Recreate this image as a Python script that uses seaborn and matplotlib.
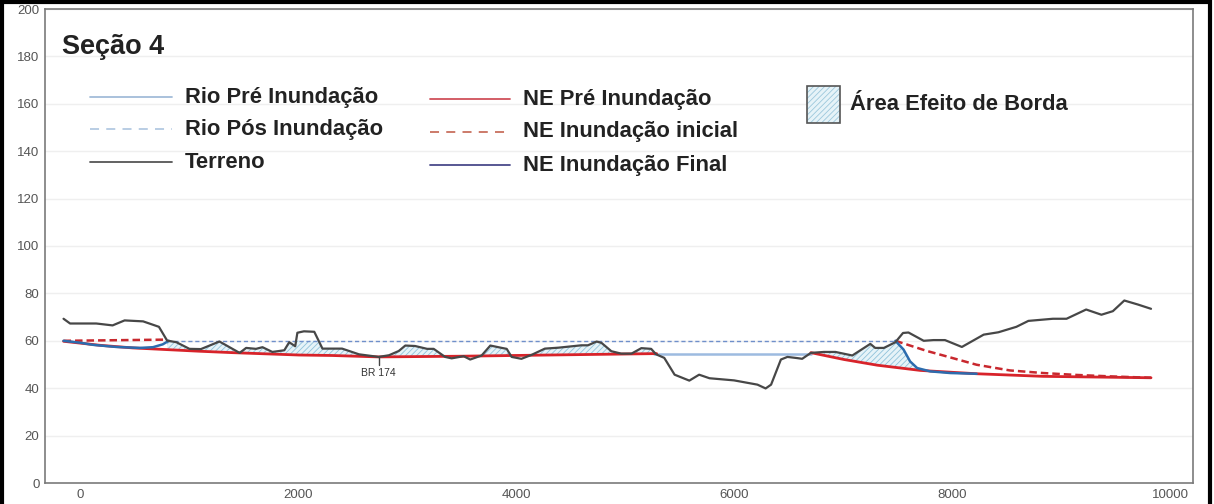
import numpy as np
import matplotlib
matplotlib.use("Agg")
import matplotlib.pyplot as plt
from matplotlib.patches import Rectangle
from matplotlib.lines import Line2D
import seaborn as sns

# Terrain profile along the section (distance in m, elevation in m)
terreno_x = [-150, -90, 150, 300, 410, 580, 725, 800, 885, 1005, 1110, 1280, 1465, 1525,
             1615, 1675, 1765, 1875, 1920, 1975, 1995, 2055, 2150, 2225, 2405, 2560, 2740,
             2835, 2925, 2985, 3075, 3185, 3245, 3350, 3410, 3520, 3580, 3685, 3765, 3870,
             3915, 3960, 4050, 4145, 4265, 4390, 4600, 4660, 4740, 4785, 4875, 4965, 5060,
             5150, 5240, 5285, 5360, 5455, 5590, 5680, 5775, 6000, 6215, 6290, 6340, 6430,
             6490, 6580, 6625, 6705, 6825, 6930, 7085, 7250, 7295, 7375, 7480, 7550, 7600,
             7740, 7830, 7935, 8090, 8290, 8425, 8590, 8700, 8925, 9050, 9230, 9370, 9475,
             9580, 9705, 9825]
terreno_y = [69.3, 67.3, 67.3, 66.5, 68.6, 68.2, 65.9, 60.1, 59.4, 56.6, 56.5, 59.7, 54.9, 57.0,
             56.6, 57.3, 55.3, 56.0, 59.4, 57.7, 63.4, 64.0, 63.8, 56.7, 56.7, 54.3, 53.2,
             53.9, 55.7, 58.0, 57.8, 56.6, 56.6, 53.2, 52.6, 53.5, 52.1, 53.8, 58.0, 57.0,
             56.6, 53.2, 52.4, 54.1, 56.7, 57.1, 58.1, 58.1, 59.7, 59.1, 55.6, 54.6, 54.6,
             56.9, 56.6, 54.3, 52.8, 45.7, 43.2, 45.7, 44.2, 43.3, 41.5, 39.9, 41.5, 52.1,
             53.2, 52.7, 52.4, 54.9, 55.3, 55.3, 53.8, 58.7, 57.0, 57.0, 59.4, 63.3, 63.5,
             60.0, 60.3, 60.3, 57.4, 62.6, 63.6, 65.9, 68.4, 69.3, 69.3, 73.2, 71.0, 72.5,
             77.0, 75.3, 73.5]

# Water level before flooding (NE Pré Inundação), upstream and downstream reaches
ne_pre_a_x = [-150, 185, 485, 790, 1095, 1400, 1705, 2010, 2315, 2740, 3500, 4300, 5290]
ne_pre_a_y = [59.8, 58.1, 57.0, 56.3, 55.6, 55.0, 54.5, 54.0, 53.8, 53.2, 53.5, 54.0, 54.6]
ne_pre_b_x = [6705, 7010, 7315, 7710, 8225, 8835, 9825]
ne_pre_b_y = [55.0, 52.1, 49.7, 47.5, 46.1, 45.0, 44.4]

# River level before flooding (Rio Pré Inundação)
rio_pre_x = [5270, 6705]
rio_pre_y = [54.5, 54.5]

# River level after flooding (Rio Pós Inundação)
rio_pos_x = [800, 7480]
rio_pos_y = [60.0, 60.0]

# Initial flooding water level (NE Inundação inicial)
ne_ini_a_x = [-150, 800]
ne_ini_a_y = [60.0, 60.5]
ne_ini_b_x = [7480, 7770, 7920, 8225, 8530, 8835, 9140, 9445, 9825]
ne_ini_b_y = [60.0, 55.7, 53.8, 49.9, 47.5, 46.4, 45.6, 45.0, 44.4]

# Final flooding water level (NE Inundação Final)
ne_fin_a_x = [-150, 0, 120, 335, 550, 670, 760, 815]
ne_fin_a_y = [60.0, 59.2, 58.3, 57.4, 57.0, 57.3, 58.5, 60.0]
ne_fin_b_x = [7480, 7555, 7615, 7680, 7800, 7985, 8225]
ne_fin_b_y = [60.0, 56.3, 51.3, 48.5, 47.1, 46.4, 46.1]

x_ticks = [0, 2000, 4000, 6000, 8000, 10000]
y_ticks = list(range(0, 201, 20))

titulo = "Seção 4"
legenda_col1 = ["Rio Pré Inundação", "Rio Pós Inundação", "Terreno"]
legenda_col2 = ["NE Pré Inundação", "NE Inundação inicial", "NE Inundação Final"]
legenda_area = "Área Efeito de Borda"
marco_nome = "BR 174"
marco_x = 2740
marco_y = 53.2

sns.set_style("white")
plt.rcParams["font.family"] = ["Liberation Sans", "DejaVu Sans"]
plt.rcParams["hatch.linewidth"] = 0.6

W, H = 1214, 504
fig = plt.figure(figsize=(W / 100, H / 100), dpi=100)
ax = fig.add_axes([45 / W, 21 / H, 1148 / W, 474 / H])

# Grid
for yv in y_ticks[1:]:
    ax.axhline(yv, color="#efefef", lw=1.0, zorder=0)

# Edge-effect areas: between the pre-flood water level and the terrain, below the post-flood level
fill_style = dict(facecolor="#e6f3f8", edgecolor="#8fc2da", hatch="//////", linewidth=0, zorder=1)

xa = np.linspace(800, 5290, 900)
up_a = np.minimum(np.interp(xa, terreno_x, terreno_y), np.interp(xa, rio_pos_x, rio_pos_y))
lo_a = np.interp(xa, ne_pre_a_x, ne_pre_a_y)
ax.fill_between(xa, lo_a, up_a, where=up_a > lo_a, interpolate=True, **fill_style)

xb = np.linspace(6705, 7710, 400)
up_b = np.minimum(np.interp(xb, terreno_x, terreno_y), 60.0)
up_b = np.where(xb > 7480, np.minimum(up_b, np.interp(xb, ne_fin_b_x, ne_fin_b_y)), up_b)
lo_b = np.interp(xb, ne_pre_b_x, ne_pre_b_y)
ax.fill_between(xb, lo_b, up_b, where=up_b > lo_b, interpolate=True, **fill_style)

# Water levels
sns.lineplot(x=rio_pos_x, y=rio_pos_y, ax=ax, color="#6f8fca", lw=1.0,
             linestyle=(0, (3, 2)), zorder=3)
sns.lineplot(x=rio_pre_x, y=rio_pre_y, ax=ax, color="#9dbbe0", lw=1.8, zorder=3)
sns.lineplot(x=ne_pre_a_x, y=ne_pre_a_y, ax=ax, color="#d8232a", lw=2.0, zorder=4)
sns.lineplot(x=ne_pre_b_x, y=ne_pre_b_y, ax=ax, color="#d8232a", lw=2.0, zorder=4)
sns.lineplot(x=ne_ini_a_x, y=ne_ini_a_y, ax=ax, color="#c8282e", lw=1.8,
             linestyle=(0, (3, 1.6)), zorder=5)
sns.lineplot(x=ne_ini_b_x, y=ne_ini_b_y, ax=ax, color="#c8282e", lw=1.8,
             linestyle=(0, (3, 1.6)), zorder=5)
sns.lineplot(x=ne_fin_a_x, y=ne_fin_a_y, ax=ax, color="#2c6cae", lw=1.8, zorder=5)
sns.lineplot(x=ne_fin_b_x, y=ne_fin_b_y, ax=ax, color="#2c6cae", lw=1.8, zorder=5)

# Terrain
sns.lineplot(x=terreno_x, y=terreno_y, ax=ax, color="#474747", lw=1.6, zorder=6)

# Road marker
ax.plot([marco_x, marco_x], [marco_y, marco_y - 3.5], color="#444444", lw=1.0, zorder=6)
ax.text(marco_x, marco_y - 6.8, marco_nome, ha="center", va="center",
        fontsize=7.5, color="#333333", zorder=6)

ax.set_xlim(-320, 10210)
ax.set_ylim(0, 200)
ax.set_xticks(x_ticks)
ax.set_yticks(y_ticks)
ax.set_xticklabels([str(v) for v in x_ticks])
ax.set_yticklabels([str(v) for v in y_ticks])
ax.tick_params(axis="both", length=0, labelsize=9.5, labelcolor="#555555", pad=4)
ax.set_xlabel("")
ax.set_ylabel("")
for sp in ax.spines.values():
    sp.set_color("#7a7a7a")
    sp.set_linewidth(1.2)

# Title and legend
def fx(px):
    return (px - 45) / 1148

def fy(py):
    return (483 - py) / 474

ax.text(fx(62), fy(47), titulo, transform=ax.transAxes, fontsize=19.5, fontweight="bold",
        color="#222222", ha="left", va="center")

LEG_FS = 15.8
col1_styles = [dict(color="#a3bcd9", lw=1.3, ls="-"),
               dict(color="#b3c9e2", lw=1.3, ls=(0, (5, 4))),
               dict(color="#555555", lw=1.3, ls="-")]
col2_styles = [dict(color="#d0505a", lw=1.3, ls="-"),
               dict(color="#c8705e", lw=1.3, ls=(0, (5, 4))),
               dict(color="#4a4a8a", lw=1.3, ls="-")]
for label, st, py in zip(legenda_col1, col1_styles, [97, 129, 162]):
    ax.add_line(Line2D([fx(90), fx(172)], [fy(py), fy(py)], transform=ax.transAxes, **st))
    ax.text(fx(185), fy(py), label, transform=ax.transAxes, fontsize=LEG_FS, fontweight="bold",
            color="#222222", ha="left", va="center")
for label, st, py in zip(legenda_col2, col2_styles, [99, 132, 165]):
    ax.add_line(Line2D([fx(430), fx(510)], [fy(py), fy(py)], transform=ax.transAxes, **st))
    ax.text(fx(523), fy(py), label, transform=ax.transAxes, fontsize=LEG_FS, fontweight="bold",
            color="#222222", ha="left", va="center")

box = (fx(807), fy(123)), fx(840) - fx(807), fy(86) - fy(123)
ax.add_patch(Rectangle(*box, transform=ax.transAxes, facecolor="#e6f3f8", edgecolor="#9cc8dc",
                       hatch="//////", linewidth=0, zorder=7))
ax.add_patch(Rectangle(*box, transform=ax.transAxes, facecolor="none", edgecolor="#555555",
                       linewidth=1.2, zorder=8))
ax.text(fx(850), fy(105), legenda_area, transform=ax.transAxes, fontsize=LEG_FS,
        fontweight="bold", color="#222222", ha="left", va="center")

# Outer frame of the figure
frame = dict(color="black", lw=3.0, transform=fig.transFigure)
fig.add_artist(Line2D([2 / W, 2 / W], [0, 1], **frame))
fig.add_artist(Line2D([0, 1210 / W], [1 - 2 / H, 1 - 2 / H], **frame))
fig.add_artist(Line2D([1210 / W, 1210 / W], [0, 1], **frame))

fig.savefig("out.png", dpi=100, facecolor="white")
